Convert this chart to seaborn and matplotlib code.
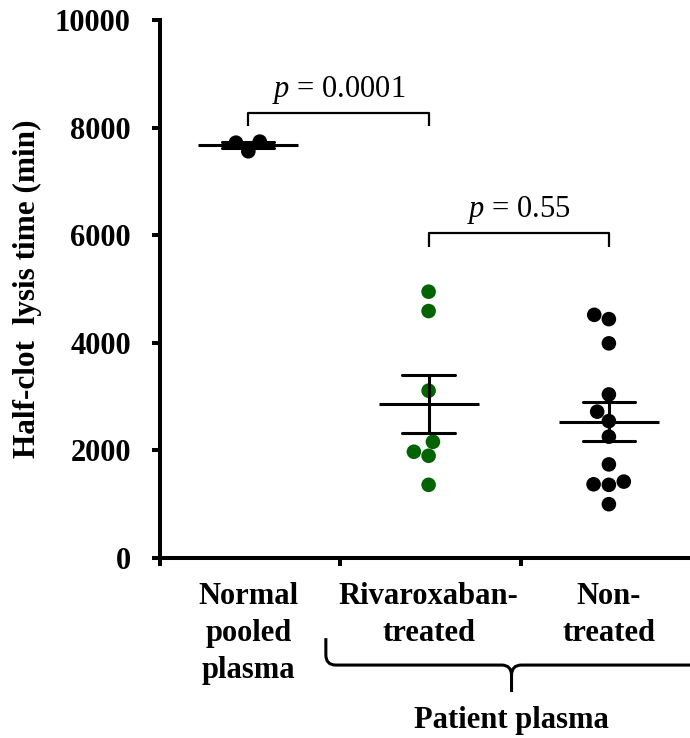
import numpy as np
import pandas as pd
import matplotlib
matplotlib.use("Agg")
import matplotlib.pyplot as plt
from matplotlib.path import Path
from matplotlib.patches import PathPatch
import seaborn as sns

# ---------------- data ----------------
groups = ["Normal\npooled\nplasma", "Rivaroxaban-\ntreated", "Non-\ntreated"]
normal_vals = [7720, 7560, 7740]
rivaroxaban_vals = [4950, 4590, 3110, 2160, 1900, 1975, 1360]
nontreated_vals = [4520, 4440, 3990, 3040, 2720, 2545, 2255, 1740, 1370, 1360, 1420, 1000]
group_colors = ["#000000", "#006400", "#000000"]
p_labels = ["0.0001", "0.55"]
yticks = [0, 2000, 4000, 6000, 8000, 10000]
ylabel = "Half-clot  lysis time (min)"
patient_label = "Patient plasma"

df = pd.DataFrame({
    "group": [groups[0]] * len(normal_vals) + [groups[1]] * len(rivaroxaban_vals)
             + [groups[2]] * len(nontreated_vals),
    "value": normal_vals + rivaroxaban_vals + nontreated_vals,
})

# ---------------- style ----------------
sns.set_style("white")
plt.rcParams["font.family"] = ["Liberation Serif", "DejaVu Serif"]
plt.rcParams["mathtext.fontset"] = "custom"
plt.rcParams["mathtext.it"] = "Liberation Serif:italic"
plt.rcParams["mathtext.rm"] = "Liberation Serif"
for k in ["text.color", "axes.labelcolor", "xtick.color", "ytick.color",
          "axes.edgecolor"]:
    plt.rcParams[k] = "black"

fig = plt.figure(figsize=(6.9, 7.38), dpi=100)
ax = fig.add_axes([160 / 690, 1 - 558 / 738, 530 / 690, 538 / 738])

sns.swarmplot(data=df, x="group", y="value", hue="group", order=groups,
              hue_order=groups, palette=group_colors, size=10.5, linewidth=0,
              legend=False, ax=ax, zorder=2)

sns.pointplot(data=df, x="group", y="value", order=groups, errorbar="se",
              capsize=0.29, marker="_", markersize=72, markeredgewidth=2.2,
              linestyle="none", color="black", err_kws={"linewidth": 2.2},
              ax=ax, zorder=3)

ax.set_xlim(-0.49, 2.45)
ax.set_ylim(0, 10000)

# spines
for s in ["top", "right"]:
    ax.spines[s].set_visible(False)
for s in ["left", "bottom"]:
    ax.spines[s].set_linewidth(2.9)
    ax.spines[s].set_color("black")

# y ticks
ax.set_yticks(yticks)
ax.set_yticklabels([str(v) for v in yticks], fontsize=22, fontweight="bold",
                   color="black")
ax.tick_params(axis="y", which="major", direction="out", length=6, width=2.9,
               pad=15, left=True, color="black")

# x ticks: major at bin borders, minor (labelled) at categories
ax.set_xticks([-0.49, 0.51, 1.51])
ax.set_xticklabels(["", "", ""])
ax.set_xticks([0, 1, 2], minor=True)
ax.set_xticklabels(groups, minor=True, fontsize=22, fontweight="bold",
                   linespacing=1.38, color="black")
ax.tick_params(axis="x", which="major", direction="out", length=6, width=2.9,
               bottom=True, color="black")
ax.tick_params(axis="x", which="minor", length=0, pad=17)
ax.set_xlabel("")

ax.set_ylabel(ylabel, fontsize=22.5, fontweight="bold", color="black")
ax.yaxis.set_label_coords(-0.222, 0.5)

# significance brackets
brackets = [(0, 1, 8030, 8270, 8560), (1, 2, 5780, 6040, 6330)]
for (x0, x1, ylo, yhi, ytxt), p in zip(brackets, p_labels):
    ax.plot([x0, x0, x1, x1], [ylo, yhi, yhi, ylo], color="black", lw=1.6,
            solid_capstyle="butt", clip_on=False)
    ax.text((x0 + x1) / 2, ytxt, r"$p$ = " + p, ha="center", va="baseline",
            fontsize=22, fontweight="normal", color="black")

# curly brace under patient groups
rx, ry = 0.055, 190
xl, xt, xr = 0.43, 1.46, 2.7
ytop, yh, ytip = -1490, -1990, -2490
left = Path([(xl, ytop), (xl, yh + ry), (xl, yh), (xl + rx, yh),
             (xt - rx, yh), (xt, yh), (xt, yh - ry), (xt, ytip)],
            [Path.MOVETO, Path.LINETO, Path.CURVE3, Path.CURVE3,
             Path.LINETO, Path.CURVE3, Path.CURVE3, Path.LINETO])
right = Path([(xt, yh - ry), (xt, yh), (xt + rx, yh), (xr, yh)],
             [Path.MOVETO, Path.CURVE3, Path.CURVE3, Path.LINETO])
for pth in (left, right):
    ax.add_patch(PathPatch(pth, fill=False, lw=2.2, color="black",
                           clip_on=False, capstyle="butt"))
ax.text(xt, -3160, patient_label, ha="center", va="baseline", fontsize=22,
        fontweight="bold", color="black")

fig.savefig("out.png", dpi=100)
